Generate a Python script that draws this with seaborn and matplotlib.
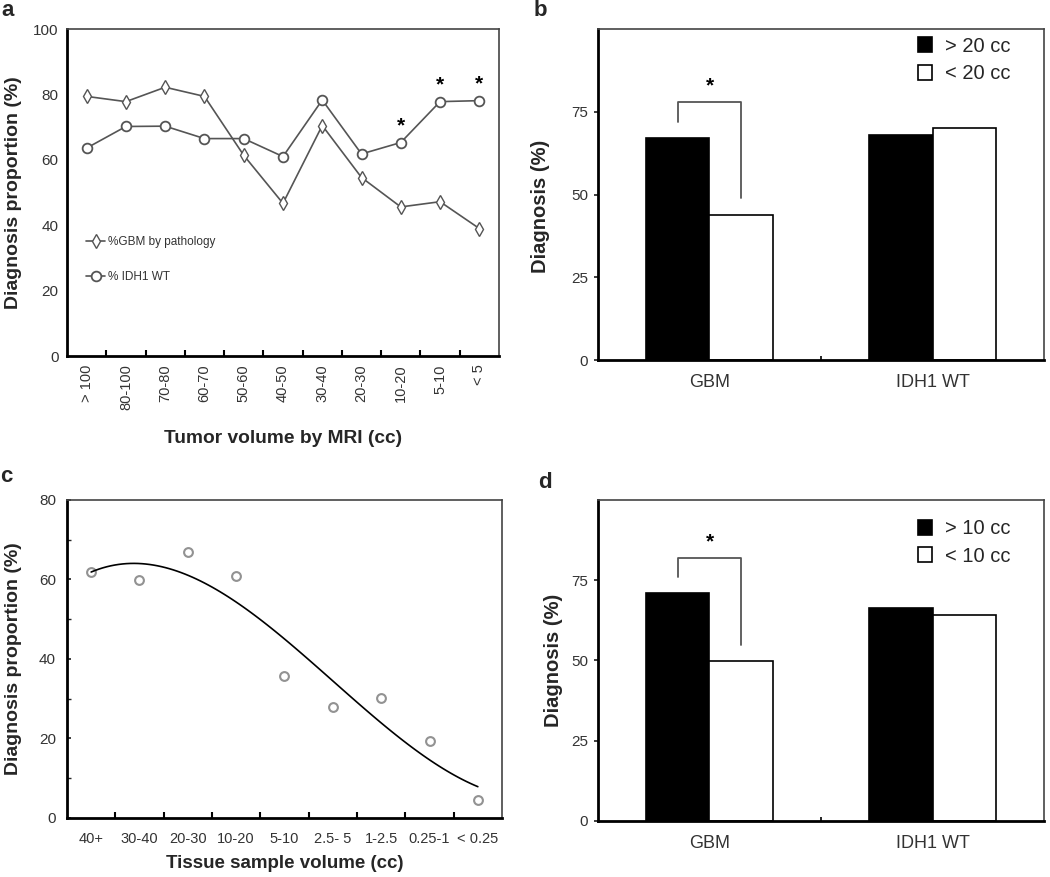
import numpy as np
import pandas as pd
import matplotlib
matplotlib.use("Agg")
import matplotlib.pyplot as plt
import seaborn as sns

# panel a: diagnosis proportion vs tumor volume by MRI
mri_bins = ["> 100", "80-100", "70-80", "60-70", "50-60", "40-50", "30-40",
            "20-30", "10-20", "5-10", "< 5"]
gbm_pct = [79.4, 77.8, 82.2, 79.4, 61.4, 46.7, 70.5, 54.6, 45.6, 47.2, 39.0]
idh1_pct = [63.6, 70.2, 70.3, 66.5, 66.5, 61.0, 78.3, 61.8, 65.3, 77.8, 78.1]
a_signif = ["10-20", "5-10", "< 5"]

# panels b and d: grouped bars
groups = ["GBM", "IDH1 WT"]
b_sizes = ["> 20 cc", "< 20 cc"]
b_big = [67.0, 67.9]
b_small = [43.9, 70.0]
d_sizes = ["> 10 cc", "< 10 cc"]
d_big = [70.9, 66.4]
d_small = [49.8, 64.1]

# panel c: diagnosis proportion vs tissue sample volume
tissue_bins = ["40+", "30-40", "20-30", "10-20", "5-10", "2.5- 5", "1-2.5",
               "0.25-1", "< 0.25"]
tissue_pct = [62.0, 59.9, 66.8, 60.9, 35.8, 27.9, 30.1, 19.4, 4.4]

sns.set_theme(style="ticks")
plt.rcParams["font.family"] = ["Liberation Sans", "DejaVu Sans"]

fig = plt.figure(figsize=(10.5, 8.77), dpi=100)
fig.patch.set_facecolor("white")

TICK_C = "#333333"
LINE_C = "#555555"


def frame(ax):
    for s in ["left", "bottom"]:
        ax.spines[s].set_linewidth(2)
        ax.spines[s].set_color("black")
    for s in ["top", "right"]:
        ax.spines[s].set_linewidth(1.2)
        ax.spines[s].set_color("#444444")
        ax.spines[s].set_visible(True)
    ax.set_facecolor("white")


def bin_axis(ax, labels, rot, size):
    n = len(labels)
    ax.set_xlim(-0.5, n - 0.5)
    ax.set_xticks(np.arange(n))
    ax.set_xticklabels(labels, rotation=rot, fontsize=size, color=TICK_C,
                       va="top", ha="center")
    ax.tick_params(axis="x", which="major", length=0, pad=6)
    ax.set_xticks(np.arange(n - 1) + 0.5, minor=True)
    ax.tick_params(axis="x", which="minor", direction="in", length=4,
                   width=1.5, color="black")


# ---- panel a
ax_a = fig.add_axes([0.0638, 0.594, 0.4114, 0.3729])
xa = np.arange(len(mri_bins))
sns.lineplot(x=xa, y=gbm_pct, ax=ax_a, color=LINE_C, lw=1.2, marker="d",
             markersize=7, markerfacecolor="white", markeredgecolor=LINE_C,
             markeredgewidth=1, label="%GBM by pathology")
sns.lineplot(x=xa, y=idh1_pct, ax=ax_a, color=LINE_C, lw=1.2, marker="o",
             markersize=7, markerfacecolor="white", markeredgecolor=LINE_C,
             markeredgewidth=1.3, label="% IDH1 WT")
for lab in a_signif:
    i = mri_bins.index(lab)
    ax_a.text(i, idh1_pct[i] + 2.2, "*", ha="center", va="bottom",
              fontsize=15, fontweight="bold", color="black")
ax_a.set_ylim(0, 100)
ax_a.set_yticks(range(0, 101, 20))
ax_a.tick_params(axis="y", labelsize=11, labelcolor=TICK_C, length=0, pad=6)
bin_axis(ax_a, mri_bins, 90, 10.5)
ax_a.set_ylabel("Diagnosis proportion (%)", fontsize=14, fontweight="bold")
ax_a.yaxis.set_label_coords(-0.104, 0.5)
ax_a.set_xlabel("Tumor volume by MRI (cc)", fontsize=13.8, fontweight="bold")
ax_a.xaxis.set_label_coords(0.5, -0.226)
ax_a.legend(loc="center left", bbox_to_anchor=(0.02, 0.295), frameon=False,
            fontsize=8.5, handlelength=1.6, handletextpad=0.2,
            labelspacing=1.9, labelcolor="#333333")
frame(ax_a)


# ---- panels b and d
def bar_panel(ax, big, small, sizes, leg_y):
    df = pd.DataFrame({"group": groups * 2,
                       "size": [sizes[0]] * 2 + [sizes[1]] * 2,
                       "pct": big + small})
    width = 0.57
    sns.barplot(data=df, x="group", y="pct", hue="size", ax=ax,
                palette=["black", "white"], saturation=1, width=width,
                edgecolor="black", linewidth=1.2, order=groups,
                hue_order=sizes)
    ax.set_xlim(-0.5, 1.5)
    ax.set_ylim(0, 100)
    ax.set_yticks([0, 25, 50, 75])
    ax.tick_params(axis="y", labelsize=11, labelcolor=TICK_C, length=3,
                   direction="out", pad=4)
    ax.tick_params(axis="x", which="major", labelsize=13, labelcolor=TICK_C,
                   length=0, pad=10)
    ax.set_xticks([0.5], minor=True)
    ax.tick_params(axis="x", which="minor", direction="in", length=3,
                   width=1.2, color="black")
    ax.set_xlabel("")
    ax.set_ylabel("Diagnosis (%)", fontsize=14.5, fontweight="bold")
    ax.legend(loc="upper right", bbox_to_anchor=(0.965, leg_y), frameon=False,
              fontsize=14.5, handlelength=0.7, handleheight=0.75,
              handletextpad=0.65, labelspacing=0.42)
    # significance bracket between the GBM bars
    off = width / 4
    top = max(big[0], small[0]) + 11
    ax.plot([-off, -off, off, off], [big[0] + 5, top, top, small[0] + 5],
            color=LINE_C, lw=1.3)
    ax.text(0, top + 2, "*", ha="center", va="bottom", fontsize=15,
            fontweight="bold", color="black")
    frame(ax)


ax_b = fig.add_axes([0.5695, 0.5895, 0.4248, 0.3774])
bar_panel(ax_b, b_big, b_small, b_sizes, 1.031)
ax_b.yaxis.set_label_coords(-0.108, 0.464)

ax_d = fig.add_axes([0.5695, 0.0639, 0.4248, 0.366])
bar_panel(ax_d, d_big, d_small, d_sizes, 0.996)
ax_d.yaxis.set_label_coords(-0.078, 0.5)

# ---- panel c
ax_c = fig.add_axes([0.0638, 0.0673, 0.4143, 0.3626])
xc = np.arange(len(tissue_bins))
sns.regplot(x=xc, y=tissue_pct, order=3, ci=None, ax=ax_c,
            marker="o", truncate=True,
            scatter_kws=dict(s=40, facecolors="white", edgecolors="#777777",
                             linewidths=1.5),
            line_kws=dict(color="black", lw=1.2))
ax_c.set_ylim(0, 80)
ax_c.set_yticks(range(0, 81, 20))
ax_c.set_yticks(range(10, 80, 20), minor=True)
ax_c.tick_params(axis="y", which="major", labelsize=11, labelcolor=TICK_C,
                 length=3, direction="in", pad=8)
ax_c.tick_params(axis="y", which="minor", length=3, direction="in")
bin_axis(ax_c, tissue_bins, 0, 10.5)
ax_c.tick_params(axis="x", which="major", pad=10)
ax_c.set_ylabel("Diagnosis proportion (%)", fontsize=14, fontweight="bold")
ax_c.yaxis.set_label_coords(-0.103, 0.5)
ax_c.set_xlabel("Tissue sample volume (cc)", fontsize=13.5, fontweight="bold")
ax_c.xaxis.set_label_coords(0.5, -0.116)
frame(ax_c)

# panel letters
for lab, (px, py) in {"a": (8, 10), "b": (540, 10), "c": (6, 476),
                      "d": (545, 483)}.items():
    fig.text(px / 1050, 1 - py / 877, lab, fontsize=16, fontweight="bold",
             ha="center", va="center")

fig.savefig("out.png", dpi=100, facecolor="white")
